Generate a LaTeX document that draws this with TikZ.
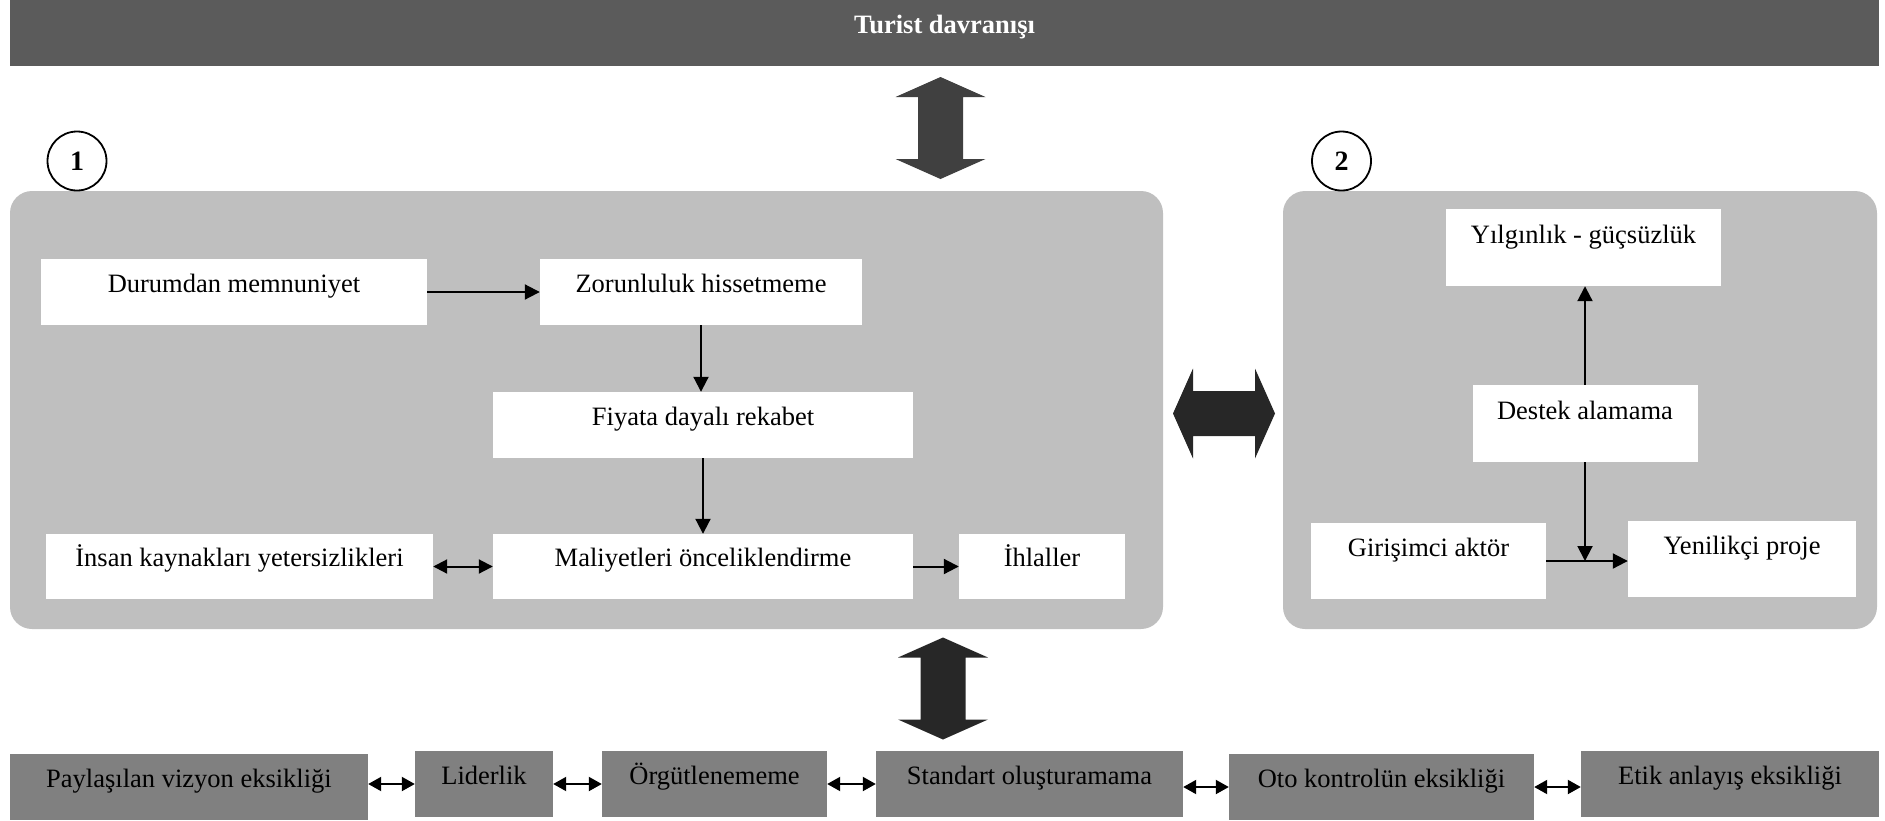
\documentclass[tikz,border=0pt]{standalone}
\usepackage{fontspec}
\setmainfont{Liberation Serif}
\usetikzlibrary{arrows.meta}

\definecolor{barfill}{HTML}{5B5B5B}
\definecolor{panelfill}{HTML}{BFBFBF}
\definecolor{lowfill}{HTML}{808080}
\definecolor{arrowtop}{HTML}{404040}
\definecolor{arrowdark}{HTML}{272727}

\tikzset{
  txt/.style={font=\fontsize{26.5pt}{30pt}\selectfont},
  wbox/.style={txt, fill=white, inner sep=0pt, text height=18pt, text depth=18pt},
  wboxhi/.style={wbox, text height=14pt, text depth=23pt},
  gbox/.style={txt, fill=lowfill, inner sep=0pt, text height=18pt, text depth=18pt},
  panel/.style={fill=panelfill, rounded corners=22pt, inner sep=0pt},
  numcirc/.style={circle, draw, line width=1.8pt, fill=white, inner sep=0pt,
    minimum size=59pt, font=\bfseries\fontsize{28pt}{30pt}\selectfont},
  flow/.style={line width=2pt, -{Triangle[length=15pt,width=15pt]}},
  twin/.style={line width=2pt, {Triangle[length=14pt,width=14pt]}-{Triangle[length=14pt,width=14pt]}},
  small/.style={line width=2pt, {Triangle[length=13pt,width=14pt]}-{Triangle[length=13pt,width=14pt]}},
  bigarrow/.pic={
    \path[pic actions] (0,-51) -- (45,-31) -- (22.5,-31) -- (22.5,31) -- (45,31) -- (0,51)
      -- (-45,31) -- (-22.5,31) -- (-22.5,-31) -- (-45,-31) -- cycle;
  }
}

\begin{document}
\begin{tikzpicture}[x=1pt, y=-1pt]
\useasboundingbox (0,0) rectangle (1885,820);

% title bar
\node[txt, fill=barfill, text=white, font=\bfseries\fontsize{26.5pt}{30pt}\selectfont,
  minimum width=1869pt, minimum height=66pt, inner sep=0pt,
  text height=18pt, text depth=18pt] (top) at (944.5,33) {Turist davranışı};

% the two panels
\node[panel, minimum width=1153pt, minimum height=438pt] (p1) at (586.5,410) {};
\node[panel, minimum width=594pt, minimum height=438pt] (p2) at (1580,410) {};

\node[numcirc] (c1) at (77,161) {1};
\node[numcirc] (c2) at (1341.5,161) {2};

% large two-way arrows
\pic[fill=arrowtop] at (940.5,128) {bigarrow};
\pic[fill=arrowdark, rotate=90] at (1224,413.5) {bigarrow};
\pic[fill=arrowdark] at (943,688.5) {bigarrow};

% panel 1
\node[wbox, minimum width=386pt, minimum height=66pt] (dur) at (234,292) {Durumdan memnuniyet};
\node[wbox, minimum width=322pt, minimum height=66pt] (zor) at (701,292) {Zorunluluk hissetmeme};
\node[wbox, minimum width=420pt, minimum height=66pt] (fiy) at (703,425) {Fiyata dayalı rekabet};
\node[wbox, minimum width=420pt, minimum height=65pt] (mal) at (703,566.5) {Maliyetleri önceliklendirme};
\node[wbox, minimum width=387pt, minimum height=65pt] (ins) at (239.5,566.5) {İnsan kaynakları yetersizlikleri};
\node[wbox, minimum width=166pt, minimum height=65pt] (ihl) at (1042,566.5) {İhlaller};

\draw[flow] (dur.east) -- (zor.west);
\draw[flow] (zor.south) -- (zor.south |- fiy.north);
\draw[flow] (fiy.south) -- (mal.north);
\draw[twin] (ins.east) -- (mal.west);
\draw[flow] (mal.east) -- (ihl.west);

% panel 2
\node[wboxhi, minimum width=275pt, minimum height=77pt] (yil) at (1583.5,247.5) {Yılgınlık - güçsüzlük};
\node[wboxhi, minimum width=225pt, minimum height=77pt] (des) at (1585,423.5) {Destek alamama};
\node[wboxhi, minimum width=235pt, minimum height=76pt] (gir) at (1428.5,561) {Girişimci aktör};
\node[wboxhi, minimum width=228pt, minimum height=76pt] (yen) at (1742,559) {Yenilikçi proje};

\draw[flow] (des.north) -- (des.north |- yil.south);
\draw[flow] (gir.east) -- (gir.east -| yen.west);
\draw[flow] (des.south) -- (des.south |- gir.east);

% bottom row
\node[gbox, minimum width=358pt, minimum height=66pt] (pay) at (189,787) {Paylaşılan vizyon eksikliği};
\node[gbox, minimum width=138pt, minimum height=66pt] (lid) at (484,784) {Liderlik};
\node[gbox, minimum width=225pt, minimum height=66pt] (org) at (714.5,784) {Örgütlenememe};
\node[gbox, minimum width=307pt, minimum height=66pt] (sta) at (1029.5,784) {Standart oluşturamama};
\node[gbox, minimum width=305pt, minimum height=66pt] (oto) at (1381.5,787) {Oto kontrolün eksikliği};
\node[gbox, minimum width=298pt, minimum height=66pt] (eti) at (1730,784) {Etik anlayış eksikliği};

\draw[small] (pay.east |- lid.west) -- (lid.west);
\draw[small] (lid.east) -- (org.west);
\draw[small] (org.east) -- (sta.west);
\draw[small] (sta.east |- oto.west) -- (oto.west);
\draw[small] (oto.east) -- (oto.east -| eti.west);
\end{tikzpicture}
\end{document}
